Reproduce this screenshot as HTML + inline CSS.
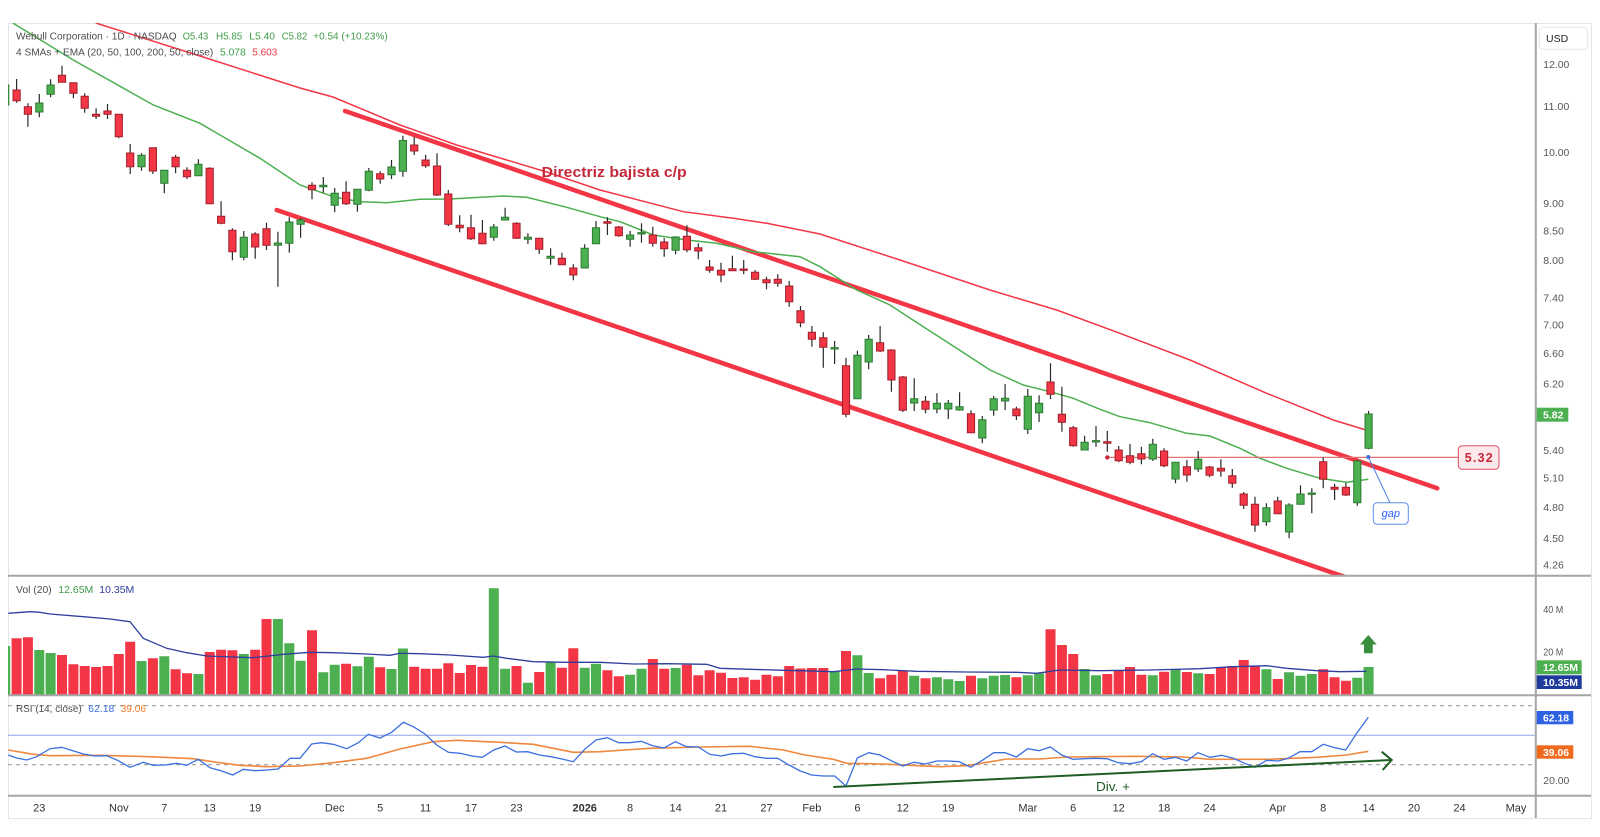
<!DOCTYPE html>
<html><head><meta charset="utf-8"><style>
html,body{margin:0;padding:0;background:#fff;}
svg{display:block;}
text{font-family:"Liberation Sans",Arial,sans-serif;}
</style></head><body>
<svg width="1600" height="837" viewBox="0 0 1600 837" xmlns="http://www.w3.org/2000/svg">
<defs>
<clipPath id="cp"><rect x="8" y="23" width="1527" height="552"/></clipPath>
<clipPath id="cv"><rect x="8" y="577" width="1527" height="118"/></clipPath>
<clipPath id="cr"><rect x="8" y="697" width="1527" height="98"/></clipPath>
</defs>
<rect x="0" y="0" width="1600" height="837" fill="#fff"/>
<rect x="8.5" y="23.5" width="1583" height="795" fill="#fff" stroke="#e3e5ea" stroke-width="1"/>

<!-- PRICE PANE -->
<g clip-path="url(#cp)">
<!-- channel lines -->
<line x1="345" y1="111" x2="1437.3" y2="488.3" stroke="#f23645" stroke-width="4.5" stroke-linecap="round"/>
<line x1="276.7" y1="210" x2="1345" y2="577" stroke="#f23645" stroke-width="4.5" stroke-linecap="round"/>
<!-- EMA red thin -->
<polyline fill="none" stroke="#f23645" stroke-width="1.5" points="90,18 96.7,23.3 200,56 300,88 333,97 400,125 456.7,145 500,158 546.7,172 600,190 683.3,211.7 733.3,218.3 766.7,223.3 820,234 900,260 990,290 1056.7,310 1120,333.3 1190,360 1266.7,393.3 1333.3,420 1366,430"/>
<!-- SMA green -->
<polyline fill="none" stroke="#4caf50" stroke-width="1.5" points="10,19 13.3,23.3 73.3,60 153.3,105 200,123.3 220,135 260,158.3 300,185 333.3,196.7 360,201.7 386.7,202.7 420,199.3 450,199 503.3,196 526.7,197.3 566.7,207.3 600,216.7 620,221.7 653.3,235 686.7,240 716.7,243.3 753.3,251.7 800,256.7 820,266.7 856.7,290 890,305 923.3,326.7 956.7,348.3 990,370 1023.3,385 1050,391.7 1073.3,398.3 1100,409.3 1120,416.7 1150,422.7 1186.7,433.3 1210,436 1240,448.3 1260,458.3 1286.7,468.3 1320,478.3 1346.7,482.3 1368.3,479.3"/>
<!-- 5.32 level line -->
<line x1="1107.3" y1="457.4" x2="1458.3" y2="457.4" stroke="#e57373" stroke-width="1.3"/>
<!-- wicks -->
<path fill="none" stroke="#2a2a2a" stroke-width="1.2" d="M5.2 80V108M16.6 79V102.7M27.9 103.3V126.7M39.3 94V117.3M50.6 79.3V97.3M62 65.7V82.3M73.4 82.7V98.3M84.7 93.3V112.7M96.1 108.3V119M107.5 104V119M118.8 114.3V138.3M130.2 144V174M141.5 153.3V170.7M152.9 147.7V174M164.3 170.3V193.3M175.6 155V173.3M187 167.3V179M198.4 159.3V175.7M209.7 167.3V203.7M221.1 201.3V224.3M232.4 228.3V260.3M243.8 231V260.3M255.2 232.3V258.7M266.5 222.7V250M277.9 231.7V286.7M289.3 217.3V252.7M300.6 218V237.7M312 182.3V199.3M323.3 177V192.7M334.7 188V212.3M346.1 181.3V205M357.4 189.3V211.7M368.8 168V191.3M380.2 171.3V183.7M391.5 160V179M402.9 135.7V176.7M414.2 136.7V155M425.6 154.7V167.7M437 153.3V196M448.3 190V226M459.7 215.3V232.3M471 214.7V240M482.4 220V244.3M493.8 224V240.7M505.1 207.7V220M516.5 222.3V239M527.9 233.3V244M539.2 238.3V254M550.6 248.3V264.7M561.9 252.7V264.7M573.3 264.3V280.3M584.7 244.3V268M596 221V243.7M607.4 217.3V235M618.8 226V236.7M630.1 231V246.7M641.5 223.3V242.7M652.8 226.7V246.7M664.2 238.3V256.7M675.6 236.3V254.3M686.9 225.3V252.3M698.3 243.3V259.3M709.6 260V272.7M721 262.7V282.3M732.4 255.7V270.7M743.7 260V274.3M755.1 270V280M766.5 276.7V289.3M777.8 274.3V286.7M789.2 281V306.7M800.5 306V327.3M811.9 326V346.7M823.3 332.3V367.7M834.6 341V364M846 357.7V417.3M857.4 350.7V398.7M868.7 335V369.3M880.1 326V352M891.4 349.3V391.7M902.8 376V412M914.2 378.3V411M925.5 396V413.3M936.9 393.3V413.3M948.3 400V419M959.6 392.3V410.7M971 410.3V433.3M982.3 416V443.3M993.7 396V415.7M1005.1 384V410M1016.4 406.7V420M1027.8 389V434M1039.1 395.3V422M1050.5 363.3V399M1061.9 386.7V431.7M1073.2 426V446.7M1084.6 435.7V450M1096 426V446.7M1107.3 431V451.7M1118.7 446V462.3M1130 444V464.3M1141.4 446.7V464.3M1152.8 438.7V461M1164.1 448.3V467.3M1175.5 462.3V483.3M1186.9 460V481.7M1198.2 451V472M1209.6 466V477.3M1220.9 459.3V476.7M1232.3 469V487.7M1243.7 492V509M1255 496.7V531.7M1266.4 503.3V525.7M1277.7 496.7V514M1289.1 503.3V538.3M1300.5 485.3V504.3M1311.8 488.3V513.3M1323.2 457.3V488.3M1334.6 484V500M1345.9 482.7V496M1357.3 460V505.7M1368.6 411V449.3"/>
<!-- green bodies -->
<path fill="#4caf50" stroke="#2d7a32" stroke-width="1" d="M1.6 85h7.2v20h-7.2ZM35.7 103h7.2v9h-7.2ZM47 85h7.2v9.3h-7.2ZM137.9 155.3h7.2v11.4h-7.2ZM160.7 170.3h7.2v13h-7.2ZM194.8 164.3h7.2v11.4h-7.2ZM240.2 237.3h7.2v20h-7.2ZM274.3 243h7.2v2.3h-7.2ZM285.7 222h7.2v21.3h-7.2ZM297 220h7.2v4.3h-7.2ZM319.7 185.3h7.2v1.4h-7.2ZM331.1 193.3h7.2v12h-7.2ZM353.8 189.3h7.2v15h-7.2ZM365.2 171.3h7.2v19h-7.2ZM387.9 167h7.2v7.7h-7.2ZM399.3 140.5h7.2v30.8h-7.2ZM490.2 227h7.2v10.3h-7.2ZM501.5 217.3h7.2v2.7h-7.2ZM524.3 237.3h7.2v2h-7.2ZM547 256.3h7.2v2h-7.2ZM581.1 248.3h7.2v19.7h-7.2ZM592.4 227.7h7.2v16h-7.2ZM626.5 235h7.2v4.3h-7.2ZM637.9 232.6h7.2v1.4h-7.2ZM672 237h7.2v13.3h-7.2ZM831 347.6h7.2v1.4h-7.2ZM853.8 355.3h7.2v43.4h-7.2ZM865.1 339.3h7.2v22.7h-7.2ZM910.6 398.7h7.2v4.3h-7.2ZM933.3 403.3h7.2v5.7h-7.2ZM944.7 403.3h7.2v5.7h-7.2ZM956 406.7h7.2v3.3h-7.2ZM978.7 419.7h7.2v18.3h-7.2ZM990.1 398.7h7.2v11.3h-7.2ZM1001.5 398.3h7.2v2.7h-7.2ZM1024.2 396.3h7.2v33h-7.2ZM1035.5 403.3h7.2v9.4h-7.2ZM1081 442.3h7.2v7.7h-7.2ZM1092.4 440.6h7.2v1.4h-7.2ZM1149.2 444.3h7.2v14.7h-7.2ZM1171.9 462.3h7.2v16.7h-7.2ZM1194.6 459.3h7.2v9.7h-7.2ZM1262.8 507.7h7.2v14h-7.2ZM1285.5 505h7.2v27h-7.2ZM1296.9 494h7.2v10.3h-7.2ZM1308.2 493h7.2v1.4h-7.2ZM1353.7 461h7.2v41.7h-7.2ZM1365 414h7.2v34.3h-7.2Z"/>
<!-- red bodies -->
<path fill="#f23645" stroke="#a11f2b" stroke-width="1" d="M13 90h7.2v10.7h-7.2ZM24.3 106.7h7.2v7.6h-7.2ZM58.4 75.3h7.2v7h-7.2ZM69.8 82.7h7.2v10.6h-7.2ZM81.1 96.3h7.2v12h-7.2ZM92.5 114.3h7.2v2h-7.2ZM103.9 111h7.2v3.3h-7.2ZM115.2 114.3h7.2v22.4h-7.2ZM126.6 153h7.2v13.7h-7.2ZM149.3 147.7h7.2v23.3h-7.2ZM172 157.3h7.2v9.4h-7.2ZM183.4 170.3h7.2v6.4h-7.2ZM206.1 168.3h7.2v35.4h-7.2ZM217.5 216.3h7.2v7h-7.2ZM228.8 230.3h7.2v21.4h-7.2ZM251.6 234h7.2v13h-7.2ZM262.9 228.7h7.2v16.6h-7.2ZM308.4 185.3h7.2v4.4h-7.2ZM342.5 192.3h7.2v11.4h-7.2ZM376.6 173.7h7.2v5.3h-7.2ZM410.6 145h7.2v6h-7.2ZM422 160h7.2v5.7h-7.2ZM433.4 166h7.2v29h-7.2ZM444.7 194h7.2v30.3h-7.2ZM456.1 225.3h7.2v2.4h-7.2ZM467.4 227.7h7.2v11h-7.2ZM478.8 233.3h7.2v10.4h-7.2ZM512.9 223.3h7.2v15h-7.2ZM535.6 238.3h7.2v11h-7.2ZM558.3 258.3h7.2v6.4h-7.2ZM569.7 268h7.2v7h-7.2ZM603.8 221.7h7.2v1.6h-7.2ZM615.2 227h7.2v8.7h-7.2ZM649.2 235h7.2v8.3h-7.2ZM660.6 242h7.2v6.7h-7.2ZM683.3 236.3h7.2v13.4h-7.2ZM694.7 247.7h7.2v3.3h-7.2ZM706 267h7.2v3.3h-7.2ZM717.4 270.3h7.2v4.7h-7.2ZM728.8 268.7h7.2v2h-7.2ZM740.1 269h7.2v1.4h-7.2ZM751.5 272.3h7.2v7h-7.2ZM762.9 279.7h7.2v3h-7.2ZM774.2 279.3h7.2v4h-7.2ZM785.6 286h7.2v15.7h-7.2ZM796.9 310.7h7.2v12h-7.2ZM808.3 332.3h7.2v7h-7.2ZM819.7 337.7h7.2v9.6h-7.2ZM842.4 365.7h7.2v48.6h-7.2ZM876.5 342.7h7.2v8.3h-7.2ZM887.8 350h7.2v30h-7.2ZM899.2 377h7.2v33.3h-7.2ZM921.9 401.3h7.2v8h-7.2ZM967.4 413.7h7.2v19h-7.2ZM1012.8 409h7.2v6.7h-7.2ZM1046.9 382h7.2v12.3h-7.2ZM1058.3 414.3h7.2v8h-7.2ZM1069.6 427.7h7.2v18h-7.2ZM1103.7 441.7h7.2v1.5h-7.2ZM1115.1 450h7.2v10.7h-7.2ZM1126.4 455.7h7.2v6.6h-7.2ZM1137.8 453.7h7.2v5.3h-7.2ZM1160.5 451h7.2v14.7h-7.2ZM1183.3 466.7h7.2v8.3h-7.2ZM1206 467h7.2v8.3h-7.2ZM1217.3 468.3h7.2v2.7h-7.2ZM1228.7 475.7h7.2v7.6h-7.2ZM1240.1 494h7.2v11.3h-7.2ZM1251.4 504.3h7.2v20.7h-7.2ZM1274.1 501h7.2v12.7h-7.2ZM1319.6 461.7h7.2v17.6h-7.2ZM1331 487.3h7.2v2h-7.2ZM1342.3 487.3h7.2v7.7h-7.2Z"/>
<!-- annotations -->
<circle cx="1107.3" cy="457.4" r="2.2" fill="#c62838"/>
<line x1="1368.3" y1="457" x2="1390" y2="502.7" stroke="#4a7fe0" stroke-width="1"/>
<circle cx="1368.3" cy="457" r="2" fill="#3a6fe0"/>
<rect x="1373.3" y="502.7" width="35" height="21.6" rx="4" fill="#fff" stroke="#5b8def" stroke-width="1"/>
<text x="1390.8" y="517" font-size="11" font-style="italic" fill="#2962ff" text-anchor="middle">gap</text>
<rect x="1458.3" y="445.7" width="40.7" height="23.6" rx="4" fill="#fde9eb" stroke="#d9505e" stroke-width="1"/>
<text x="1478.7" y="462" font-size="12.5" font-weight="bold" fill="#c62838" text-anchor="middle" textLength="28" lengthAdjust="spacing">5.32</text>
<text x="541.7" y="177" font-size="15" font-weight="bold" fill="#c4283a" textLength="145" lengthAdjust="spacingAndGlyphs">Directriz bajista c/p</text>
</g>

<!-- legend -->
<text x="16" y="39.7" font-size="10.5" fill="#4d4d4d" textLength="160.7" lengthAdjust="spacingAndGlyphs">Webull Corporation · 1D · NASDAQ</text>
<text x="182.7" y="39.7" font-size="10.5" fill="#3d9b48" textLength="25.6" lengthAdjust="spacingAndGlyphs">O5.43</text>
<text x="216" y="39.7" font-size="10.5" fill="#3d9b48" textLength="26.3" lengthAdjust="spacingAndGlyphs">H5.85</text>
<text x="249.3" y="39.7" font-size="10.5" fill="#3d9b48" textLength="25.7" lengthAdjust="spacingAndGlyphs">L5.40</text>
<text x="281.7" y="39.7" font-size="10.5" fill="#3d9b48" textLength="25.6" lengthAdjust="spacingAndGlyphs">C5.82</text>
<text x="313.3" y="39.7" font-size="10.5" fill="#3d9b48" textLength="74.4" lengthAdjust="spacingAndGlyphs">+0.54 (+10.23%)</text>
<text x="16" y="55.4" font-size="10.5" fill="#4d4d4d" textLength="197.3" lengthAdjust="spacingAndGlyphs">4 SMAs + EMA (20, 50, 100, 200, 50, close)</text>
<text x="220" y="55.4" font-size="10.5" fill="#3d9b48" textLength="25.7" lengthAdjust="spacingAndGlyphs">5.078</text>
<text x="252.3" y="55.4" font-size="10.5" fill="#f23645" textLength="25" lengthAdjust="spacingAndGlyphs">5.603</text>

<!-- VOLUME PANE -->
<g clip-path="url(#cv)">
<path fill="#4caf50" d="M0.2 646h10V695h-10ZM34.3 650h10V695h-10ZM45.6 653h10V695h-10ZM136.5 661h10V695h-10ZM159.3 656.3h10V695h-10ZM193.4 674h10V695h-10ZM238.8 654h10V695h-10ZM272.9 619h10V695h-10ZM284.3 643.3h10V695h-10ZM295.6 660.7h10V695h-10ZM318.3 672.3h10V695h-10ZM329.7 664.7h10V695h-10ZM352.4 666.3h10V695h-10ZM363.8 656.7h10V695h-10ZM386.5 669h10V695h-10ZM397.9 648.5h10V695h-10ZM488.8 588.3h10V695h-10ZM500.1 668.7h10V695h-10ZM522.9 682.7h10V695h-10ZM545.6 662.3h10V695h-10ZM579.7 667.7h10V695h-10ZM591 663.7h10V695h-10ZM625.1 674.7h10V695h-10ZM636.5 668.7h10V695h-10ZM670.6 668h10V695h-10ZM829.6 671.3h10V695h-10ZM852.4 655.3h10V695h-10ZM863.7 673h10V695h-10ZM909.2 675.7h10V695h-10ZM931.9 677.3h10V695h-10ZM943.3 679.3h10V695h-10ZM954.6 681h10V695h-10ZM977.3 678.3h10V695h-10ZM988.7 675.7h10V695h-10ZM1000.1 675h10V695h-10ZM1022.8 675.3h10V695h-10ZM1034.1 673.3h10V695h-10ZM1079.6 669h10V695h-10ZM1091 675.3h10V695h-10ZM1147.8 675.3h10V695h-10ZM1170.5 669.7h10V695h-10ZM1193.2 673.2h10V695h-10ZM1261.4 669.3h10V695h-10ZM1284.1 672.3h10V695h-10ZM1295.5 675.7h10V695h-10ZM1306.8 674h10V695h-10ZM1352.3 677.7h10V695h-10ZM1363.6 667h10V695h-10Z"/>
<path fill="#f23645" d="M11.6 638.3h10V695h-10ZM22.9 637.3h10V695h-10ZM57 655h10V695h-10ZM68.4 664.3h10V695h-10ZM79.7 666h10V695h-10ZM91.1 667h10V695h-10ZM102.5 666h10V695h-10ZM113.8 654h10V695h-10ZM125.2 641.7h10V695h-10ZM147.9 658.3h10V695h-10ZM170.6 669.3h10V695h-10ZM182 673.3h10V695h-10ZM204.7 652h10V695h-10ZM216.1 649.7h10V695h-10ZM227.4 650.3h10V695h-10ZM250.2 649.7h10V695h-10ZM261.5 619h10V695h-10ZM307 630.3h10V695h-10ZM341.1 663.7h10V695h-10ZM375.2 667.3h10V695h-10ZM409.2 666.7h10V695h-10ZM420.6 668.7h10V695h-10ZM432 668.7h10V695h-10ZM443.3 663.3h10V695h-10ZM454.7 673h10V695h-10ZM466 665h10V695h-10ZM477.4 666.7h10V695h-10ZM511.5 666h10V695h-10ZM534.2 672h10V695h-10ZM556.9 667.7h10V695h-10ZM568.3 648.3h10V695h-10ZM602.4 670.3h10V695h-10ZM613.8 676.3h10V695h-10ZM647.8 659h10V695h-10ZM659.2 668.7h10V695h-10ZM681.9 664.7h10V695h-10ZM693.3 675.3h10V695h-10ZM704.6 670.3h10V695h-10ZM716 672.7h10V695h-10ZM727.4 678h10V695h-10ZM738.7 677.3h10V695h-10ZM750.1 679.7h10V695h-10ZM761.5 674.7h10V695h-10ZM772.8 676.3h10V695h-10ZM784.2 666h10V695h-10ZM795.5 668.5h10V695h-10ZM806.9 668h10V695h-10ZM818.3 668h10V695h-10ZM841 651h10V695h-10ZM875.1 678.3h10V695h-10ZM886.4 674.7h10V695h-10ZM897.8 670.7h10V695h-10ZM920.5 678.3h10V695h-10ZM966 675.7h10V695h-10ZM1011.4 677.3h10V695h-10ZM1045.5 629.3h10V695h-10ZM1056.9 645h10V695h-10ZM1068.2 654h10V695h-10ZM1102.3 674h10V695h-10ZM1113.7 670.7h10V695h-10ZM1125 667h10V695h-10ZM1136.4 674.7h10V695h-10ZM1159.1 671.7h10V695h-10ZM1181.9 672h10V695h-10ZM1204.6 674h10V695h-10ZM1215.9 667.3h10V695h-10ZM1227.3 666h10V695h-10ZM1238.7 660h10V695h-10ZM1250 666.3h10V695h-10ZM1272.7 679h10V695h-10ZM1318.2 669.3h10V695h-10ZM1329.6 677.3h10V695h-10ZM1340.9 680.7h10V695h-10Z"/>
<polyline fill="none" stroke="#2f3f9f" stroke-width="1.3" points="8.3,613.3 30,611.7 40,612.3 50,614 83.3,616.7 110,619 130,621.7 143.3,638.3 166.7,648.3 186.7,652.7 206.7,656 233.3,657 253.3,657.7 283.3,654.3 310,652.3 333.3,652.7 366.7,654 390,655.3 400,653.3 420,653.7 450,655 483.3,657.3 493.3,656 506.7,658.3 533.3,661.7 566.7,662.3 600,662.3 633.3,664 666.7,663.7 706.7,664.3 720,668.3 750,669.3 783.3,670.3 805,670.8 833.3,671.7 856.7,669 883.3,669.7 916.7,671.3 966.7,672 1016.7,672.3 1036.7,673.3 1060,670 1100,670.7 1150,670 1200,668.7 1233,666.7 1266.7,665.7 1286.7,668.3 1316.7,670.7 1340,671.7 1366.7,671.3"/>
<polygon points="1368.3,635 1376.7,644.5 1372.7,644.5 1372.7,653.3 1364,653.3 1364,644.5 1360,644.5" fill="#388e3c"/>
</g>
<text x="16" y="593" font-size="10.5" fill="#4d4d4d" textLength="35.7" lengthAdjust="spacingAndGlyphs">Vol (20)</text>
<text x="58.3" y="593" font-size="10.5" fill="#3d9b48" textLength="35" lengthAdjust="spacingAndGlyphs">12.65M</text>
<text x="99.3" y="593" font-size="10.5" fill="#2f3f9f" textLength="35" lengthAdjust="spacingAndGlyphs">10.35M</text>

<!-- RSI PANE -->
<g clip-path="url(#cr)">
<line x1="8" y1="705.7" x2="1535" y2="705.7" stroke="#9e9e9e" stroke-width="1.2" stroke-dasharray="4 4"/>
<line x1="8" y1="764.7" x2="1535" y2="764.7" stroke="#9e9e9e" stroke-width="1.2" stroke-dasharray="4 4"/>
<line x1="8" y1="735.2" x2="1535" y2="735.2" stroke="#8ea6e8" stroke-width="1"/>
<polyline fill="none" stroke="#f0883e" stroke-width="1.6" points="8.3,750 33.3,754.3 50,755.7 100,755.3 150,756.7 193.3,758.7 216.7,762.3 240,765.3 266.7,766.7 300,766 333.3,762.7 366.7,758.3 400,749 433.3,741.7 456.7,740.3 500,742.3 533.3,744.3 573.3,752.3 600,751.7 650,748.3 700,747 750,746.3 783.3,750 805,755 833.3,759.3 846.7,763.3 883.3,764 940,766.7 966.7,765.7 1006.7,759 1040,759 1066.7,757 1133.3,756.3 1183.3,757 1210,759.3 1266.7,759.3 1316.7,757.3 1346.7,755 1368.3,751.3"/>
<polyline fill="none" stroke="#3b6fe0" stroke-width="1.3" points="8.3,755 16.6,758 26.7,760 36.7,756.7 50,748.7 61.7,747.3 83.3,754 95,756 106.7,755.7 118.3,760.7 130,767.3 143.3,762.3 153.3,765.3 165,765 176.7,763.3 186.7,765.3 198.3,759.3 210,767.7 221.7,771 232.7,775 243.3,769.3 255,770.7 266.7,770 278.3,769 290,758.3 300,758.3 311.7,744 321.7,742.7 333.3,744.3 346.7,748.7 358.3,742.7 368.3,734.3 380,738 391.7,732.3 403.3,722.3 413.3,726.7 425,734 436.7,745 448.3,752.3 460,753.3 471.7,756 482.3,757.3 493.7,750 505,746 516.3,752 527.7,751.7 539.3,755 550.7,756.7 562,759 573.3,761.7 584.7,749.3 596,740 607.3,737.7 618.7,742.7 630,742.7 641.3,741.3 652.7,745.7 664,748 675.3,741.7 686.7,746.7 698.3,747 709.7,754.3 721,756 732.3,753.7 743.7,753.3 755,756.7 766.3,758.3 777.7,758.3 789,765 800.3,771 811.7,775 823.3,776 834.7,776 846,786 857.3,758 868.7,752.7 880,755 891.3,760.7 902.7,766 914,762.3 925.3,764 936.7,761 948,761 959.3,761.7 970.7,767.3 982.3,760.3 993.7,752.7 1005,752.7 1016.3,757 1027.7,748.7 1039,750.7 1050.3,747 1061.7,755 1073,759.3 1084.3,758.7 1095.7,758.3 1107,758.7 1118.3,762.7 1130,763.7 1141.3,761.7 1152.7,753.7 1164,759.3 1175.3,757.3 1186.7,761 1198,752.7 1210,757.3 1221.7,755.3 1233.3,758.3 1243.3,762.7 1255,767.3 1266.7,760.3 1278.3,761 1288.3,758.3 1300,751.7 1311.7,751.7 1323.3,744.3 1335,747.7 1345.7,750 1356.7,733.3 1368.3,717.3"/>
<line x1="833.3" y1="787" x2="1391" y2="760" stroke="#1f5e22" stroke-width="2"/>
<polyline fill="none" stroke="#1f5e22" stroke-width="2" points="1381.7,751.7 1391.7,760 1382.7,770"/>
<text x="1096" y="791" font-size="13" fill="#1f5e22" textLength="34" lengthAdjust="spacingAndGlyphs">Div. +</text>
</g>
<text x="16" y="712" font-size="10.5" fill="#4d4d4d" textLength="65.7" lengthAdjust="spacingAndGlyphs">RSI (14, close)</text>
<text x="88.3" y="712" font-size="10.5" fill="#3b6fe0" textLength="26" lengthAdjust="spacingAndGlyphs">62.18</text>
<text x="120.7" y="712" font-size="10.5" fill="#f07a2a" textLength="25.3" lengthAdjust="spacingAndGlyphs">39.06</text>

<!-- separators -->
<line x1="8" y1="575.7" x2="1591" y2="575.7" stroke="#a6a6a6" stroke-width="2"/>
<line x1="8" y1="695.3" x2="1591" y2="695.3" stroke="#a6a6a6" stroke-width="2"/>
<line x1="8" y1="795.7" x2="1591" y2="795.7" stroke="#a6a6a6" stroke-width="2"/>
<line x1="1535.8" y1="23" x2="1535.8" y2="818" stroke="#a6a6a6" stroke-width="2"/>

<!-- right axis -->
<rect x="1539.3" y="27.3" width="48.4" height="22" rx="4" fill="#fff" stroke="#e3e5ea" stroke-width="1"/>
<text x="1546" y="42" font-size="10.5" fill="#222">USD</text>
<g font-size="10.5" fill="#555">
<text x="1543.3" y="68.1" textLength="26" lengthAdjust="spacingAndGlyphs">12.00</text>
<text x="1543.3" y="110.1" textLength="26" lengthAdjust="spacingAndGlyphs">11.00</text>
<text x="1543.3" y="156.2" textLength="26" lengthAdjust="spacingAndGlyphs">10.00</text>
<text x="1543.3" y="207.1" textLength="20.5" lengthAdjust="spacingAndGlyphs">9.00</text>
<text x="1543.3" y="234.7" textLength="20.5" lengthAdjust="spacingAndGlyphs">8.50</text>
<text x="1543.3" y="264.1" textLength="20.5" lengthAdjust="spacingAndGlyphs">8.00</text>
<text x="1543.3" y="301.7" textLength="20.5" lengthAdjust="spacingAndGlyphs">7.40</text>
<text x="1543.3" y="328.6" textLength="20.5" lengthAdjust="spacingAndGlyphs">7.00</text>
<text x="1543.3" y="357" textLength="20.5" lengthAdjust="spacingAndGlyphs">6.60</text>
<text x="1543.3" y="387.3" textLength="20.5" lengthAdjust="spacingAndGlyphs">6.20</text>
<text x="1543.3" y="454" textLength="20.5" lengthAdjust="spacingAndGlyphs">5.40</text>
<text x="1543.3" y="481.7" textLength="20.5" lengthAdjust="spacingAndGlyphs">5.10</text>
<text x="1543.3" y="511" textLength="20.5" lengthAdjust="spacingAndGlyphs">4.80</text>
<text x="1543.3" y="542.1" textLength="20.5" lengthAdjust="spacingAndGlyphs">4.50</text>
<text x="1543.3" y="568.6" textLength="20.5" lengthAdjust="spacingAndGlyphs">4.26</text>
<text x="1543.3" y="612.8" textLength="20" lengthAdjust="spacingAndGlyphs">40 M</text>
<text x="1543.3" y="655.5" textLength="20" lengthAdjust="spacingAndGlyphs">20 M</text>
<text x="1543.3" y="783.8" textLength="26" lengthAdjust="spacingAndGlyphs">20.00</text>
</g>
<rect x="1536.7" y="407.7" width="31.6" height="14" fill="#4caf50"/>
<text x="1543" y="418.5" font-size="10.5" font-weight="bold" fill="#fff" textLength="20.5" lengthAdjust="spacingAndGlyphs">5.82</text>
<rect x="1536.7" y="660.3" width="45" height="14" fill="#4caf50"/>
<text x="1543" y="671.1" font-size="10.5" font-weight="bold" fill="#fff" textLength="35" lengthAdjust="spacingAndGlyphs">12.65M</text>
<rect x="1536.7" y="675.3" width="45" height="13.7" fill="#1e3a9e"/>
<text x="1543" y="686" font-size="10.5" font-weight="bold" fill="#fff" textLength="35" lengthAdjust="spacingAndGlyphs">10.35M</text>
<rect x="1536.7" y="711" width="36.6" height="13.3" fill="#2f62e0"/>
<text x="1543" y="721.5" font-size="10.5" font-weight="bold" fill="#fff" textLength="26" lengthAdjust="spacingAndGlyphs">62.18</text>
<rect x="1536.7" y="745.3" width="36.6" height="13.4" fill="#f06a1e"/>
<text x="1543" y="755.8" font-size="10.5" font-weight="bold" fill="#fff" textLength="26" lengthAdjust="spacingAndGlyphs">39.06</text>

<!-- x axis -->
<g font-size="11" fill="#333" text-anchor="middle">
<text x="39.3" y="811.3">23</text>
<text x="118.8" y="811.3">Nov</text>
<text x="164.3" y="811.3">7</text>
<text x="209.7" y="811.3">13</text>
<text x="255.2" y="811.3">19</text>
<text x="334.7" y="811.3">Dec</text>
<text x="380.2" y="811.3">5</text>
<text x="425.6" y="811.3">11</text>
<text x="471" y="811.3">17</text>
<text x="516.5" y="811.3">23</text>
<text x="584.7" y="811.3" font-weight="bold">2026</text>
<text x="630.1" y="811.3">8</text>
<text x="675.6" y="811.3">14</text>
<text x="721" y="811.3">21</text>
<text x="766.5" y="811.3">27</text>
<text x="811.9" y="811.3">Feb</text>
<text x="857.4" y="811.3">6</text>
<text x="902.8" y="811.3">12</text>
<text x="948.3" y="811.3">19</text>
<text x="1027.8" y="811.3">Mar</text>
<text x="1073.2" y="811.3">6</text>
<text x="1118.7" y="811.3">12</text>
<text x="1164.1" y="811.3">18</text>
<text x="1209.6" y="811.3">24</text>
<text x="1277.7" y="811.3">Apr</text>
<text x="1323.2" y="811.3">8</text>
<text x="1368.6" y="811.3">14</text>
<text x="1414" y="811.3">20</text>
<text x="1459.5" y="811.3">24</text>
<text x="1516" y="811.3">May</text>
</g>
</svg>
</body></html>
